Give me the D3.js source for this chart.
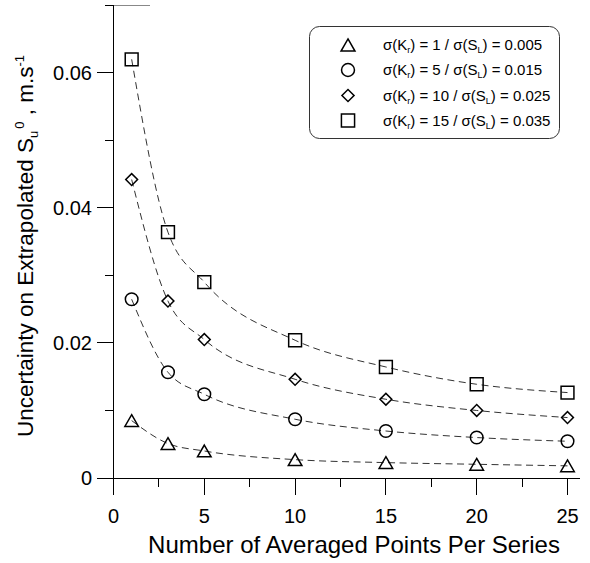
<!DOCTYPE html>
<html><head><meta charset="utf-8">
<script src="https://cdn.jsdelivr.net/npm/d3@7"></script>
<style>
html,body{margin:0;padding:0;background:#fff;}
svg{display:block;font-family:Arial,"Liberation Sans",Helvetica,sans-serif;}
</style></head>
<body>
<svg id="chart" width="590" height="563"></svg>
<script>
// ---- data ----
const points = [1, 3, 5, 10, 15, 20, 25];
const triangleValues = [0.0085, 0.0051, 0.0040, 0.00272, 0.00228, 0.00203, 0.00180];
const circleValues   = [0.02647, 0.01566, 0.0124, 0.0087, 0.00696, 0.00599, 0.00544];
const diamondValues  = [0.0442, 0.0262, 0.0205, 0.01462, 0.01166, 0.0100, 0.00895];
const squareValues   = [0.0620, 0.0364, 0.0290, 0.0204, 0.01644, 0.01388, 0.01265];
const seriesKr = ["1", "5", "10", "15"];
const seriesSL = ["0.005", "0.015", "0.025", "0.035"];
const xTicks = [0, 5, 10, 15, 20, 25];
const xMinorTicks = [2.5, 7.5, 12.5, 17.5, 22.5];
const yTicks = [0, 0.02, 0.04, 0.06];
const yMinorTicks = [0.01, 0.03, 0.05, 0.07];
const xTitle = "Number of Averaged Points Per Series";

const svg = d3.select("#chart");
const x = d3.scaleLinear().domain([0, 25]).range([113.5, 567.5]);
const y = d3.scaleLinear().domain([0, 0.07]).range([478, 5.3]);

// custom triangle centered on its bounding box
const triBox = {
  draw(ctx, size) {
    const s = Math.sqrt(size * 4 / Math.sqrt(3));
    const h = s * Math.sqrt(3) / 2;
    ctx.moveTo(0, -h / 2);
    ctx.lineTo(s / 2, h / 2);
    ctx.lineTo(-s / 2, h / 2);
    ctx.closePath();
  }
};
const shapes = [
  {type: triBox, size: 80, rot: 0, values: triangleValues},
  {type: d3.symbolCircle, size: 125, rot: 0, values: circleValues},
  {type: d3.symbolSquare, size: 70, rot: 45, values: diamondValues},
  {type: d3.symbolSquare, size: 165, rot: 0, values: squareValues}
];

// ---- axes ----
const ax = svg.append("g").attr("stroke", "#000").attr("stroke-width", 1).attr("shape-rendering", "crispEdges");
ax.append("line").attr("x1", x(0)).attr("x2", 580).attr("y1", y(0)).attr("y2", y(0));
ax.append("line").attr("x1", x(0)).attr("x2", x(0)).attr("y1", y(0.07)).attr("y2", y(0));
ax.selectAll(".xt").data(xTicks).join("line")
  .attr("x1", d => x(d)).attr("x2", d => x(d)).attr("y1", y(0)).attr("y2", y(0) + 17);
ax.selectAll(".xm").data(xMinorTicks).join("line")
  .attr("x1", d => x(d)).attr("x2", d => x(d)).attr("y1", y(0)).attr("y2", y(0) + 9);
ax.selectAll(".yt").data(yTicks).join("line")
  .attr("x1", x(0) - 17).attr("x2", x(0)).attr("y1", d => y(d)).attr("y2", d => y(d));
ax.selectAll(".ym").data(yMinorTicks).join("line")
  .attr("x1", x(0) - 9).attr("x2", x(0)).attr("y1", d => y(d)).attr("y2", d => y(d));
ax.append("line").attr("stroke", "#888").attr("x1", x(0)).attr("x2", 150)
  .attr("y1", y(0.07)).attr("y2", y(0.07));

svg.selectAll(".xl").data(xTicks).join("text")
  .attr("x", d => x(d)).attr("y", 523).attr("text-anchor", "middle")
  .attr("font-size", 20).text(d => d);
svg.selectAll(".yl").data(yTicks).join("text")
  .attr("x", 92).attr("y", d => y(d) + 7).attr("text-anchor", "end")
  .attr("font-size", 20).text(d => d === 0 ? "0" : d3.format(".2f")(d));

svg.append("text").attr("x", 354).attr("y", 553).attr("text-anchor", "middle")
  .attr("font-size", 24).text(xTitle);

const yt = svg.append("text").attr("transform", "translate(33,246) rotate(-90)")
  .attr("text-anchor", "middle").attr("font-size", 22.5);
yt.append("tspan").text("Uncertainty on Extrapolated S");
yt.append("tspan").attr("font-size", 13).attr("dy", 5).text("u");
yt.append("tspan").attr("font-size", 13).attr("dy", -14).attr("dx", 2).text("0");
yt.append("tspan").attr("dy", 9).text(" , m.s");
yt.append("tspan").attr("font-size", 13).attr("dy", -9).text("-1");

// ---- curves ----
const line = d3.line().x((d, i) => x(points[i])).y(d => y(d)).curve(d3.curveMonotoneX);
shapes.forEach(s => {
  svg.append("path").attr("d", line(s.values)).attr("fill", "none")
    .attr("stroke", "#333").attr("stroke-width", 1).attr("stroke-dasharray", "7,4.5");
});

// ---- markers ----
shapes.forEach(s => {
  const sym = d3.symbol().type(s.type).size(s.size);
  svg.append("g").selectAll("path").data(s.values).join("path")
    .attr("d", sym)
    .attr("transform", (d, i) => `translate(${x(points[i])},${y(d)}) rotate(${s.rot})`)
    .attr("fill", "none").attr("stroke", "#000").attr("stroke-width", 1.5);
});

// ---- legend ----
const lg = svg.append("g");
lg.append("rect").attr("x", 309.5).attr("y", 26.5).attr("width", 250).attr("height", 112)
  .attr("rx", 10).attr("fill", "#fff").attr("stroke", "#333").attr("stroke-width", 1);
const rowsY = [45, 70, 95.5, 120.5];
shapes.forEach((s, i) => {
  const sym = d3.symbol().type(s.type).size(s.size * 1.05);
  lg.append("path").attr("d", sym)
    .attr("transform", `translate(348,${rowsY[i]}) rotate(${s.rot})`)
    .attr("fill", "none").attr("stroke", "#000").attr("stroke-width", 1.5);
  const t = lg.append("text").attr("x", 383).attr("y", rowsY[i] + 5).attr("font-size", 15);
  t.append("tspan").text("σ(K");
  t.append("tspan").attr("font-size", 9).attr("dy", 3).text("r");
  t.append("tspan").attr("dy", -3).text(`) = ${seriesKr[i]} / σ(S`);
  t.append("tspan").attr("font-size", 9).attr("dy", 3).text("L");
  t.append("tspan").attr("dy", -3).text(`) = ${seriesSL[i]}`);
});
</script>
</body></html>
